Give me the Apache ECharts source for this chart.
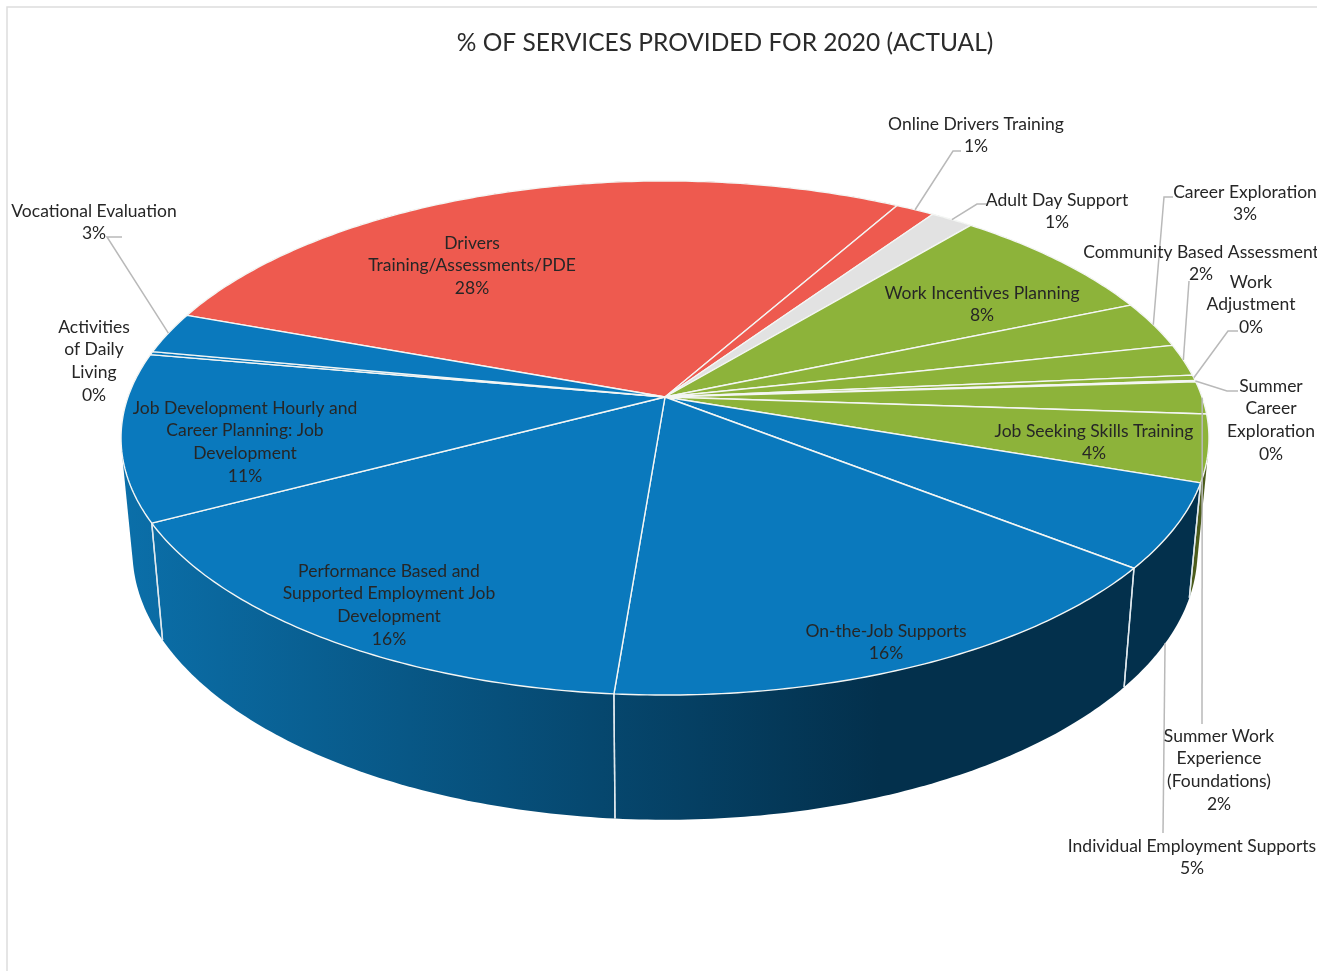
<!DOCTYPE html>
<html>
<head>
<meta charset="utf-8">
<style>
  html, body { margin: 0; padding: 0; background: #fff; overflow: hidden; }
  #chart { width: 1317px; height: 971px; }
</style>
<script src="https://cdn.jsdelivr.net/npm/echarts@6/dist/echarts.min.js"></script>
</head>
<body>
<div id="chart"></div>
<script>
// Service names, clockwise from the large red slice
const serviceNames = [
  'Drivers Training/Assessments/PDE', 'Online Drivers Training', 'Adult Day Support',
  'Work Incentives Planning', 'Career Exploration', 'Community Based Assessment',
  'Work Adjustment', 'Summer Career Exploration', 'Summer Work Experience (Foundations)',
  'Job Seeking Skills Training', 'Individual Employment Supports', 'On-the-Job Supports',
  'Performance Based and Supported Employment Job Development',
  'Job Development Hourly and Career Planning: Job Development',
  'Activities of Daily Living', 'Vocational Evaluation'
];
// Percent of services provided
const serviceShares = [27.6, 1.35, 1.49, 7.6, 2.95, 2.0, 0.35, 0.08, 2.05, 4.2, 5.3, 15.7, 16.0, 10.5, 0.2, 2.6];
// Wrapped label text for each service
const labelLines = [
  ['Drivers', 'Training/Assessments/PDE'], ['Online Drivers Training'], ['Adult Day Support'],
  ['Work Incentives Planning'], ['Career Exploration'], ['Community Based Assessment'],
  ['Work', 'Adjustment'], ['Summer', 'Career', 'Exploration'], ['Summer Work', 'Experience', '(Foundations)'],
  ['Job Seeking Skills Training'], ['Individual Employment Supports'], ['On-the-Job Supports'],
  ['Performance Based and', 'Supported Employment Job', 'Development'],
  ['Job Development Hourly and', 'Career Planning: Job', 'Development'],
  ['Activities', 'of Daily', 'Living'], ['Vocational Evaluation']
];
const chartTitle = '% OF SERVICES PROVIDED FOR 2020 (ACTUAL)';

// Colour family per service
const families = ['red', 'red', 'grey', 'green', 'green', 'green', 'green', 'green', 'green', 'green',
  'blue', 'blue', 'blue', 'blue', 'blue', 'blue'];
const topColors = { red: '#ee5a4f', grey: '#e2e2e2', green: '#8db33a', blue: '#0a79bd' };
const sideColors = {
  red: '#8a342e', grey: '#808080', green: '#4c5c1c',
  blue: { type: 'linear', global: true, x: 122, y: 0, x2: 880, y2: 0,
          colorStops: [{ offset: 0, color: '#0b6fa9' }, { offset: 1, color: '#03304c' }] }
};

// Perspective disc: plane centre, half axes, foreshortening and start bearing
const disc = { cx: 665, cy: 397, a: 537, b: 250.5, k: 0.1595, startDeg: 290.1 };
// The lower rim is the upper rim scaled and pushed down
const rim = { sx: 0.979, sy: 1.046, drop: 111 };

function project(deg) {
  const t = deg * Math.PI / 180, u = Math.sin(t), v = -Math.cos(t), w = 1 - disc.k * v;
  return [disc.cx + disc.a * u / w, disc.cy + disc.b * v / w];
}
function projectLow(deg) {
  const p = project(deg);
  return [disc.cx + rim.sx * (p[0] - disc.cx), disc.cy + rim.drop + rim.sy * (p[1] - disc.cy)];
}
function arc(fn, from, to) {
  const pts = [], n = Math.max(2, Math.ceil((to - from) / 0.75));
  for (let i = 0; i <= n; i++) pts.push(fn(from + (to - from) * i / n));
  return pts;
}
// Monotone-chain hull; the upper face paints over whatever the hull adds inside the disc
function convexHull(points) {
  const pts = points.slice().sort((p, q) => p[0] - q[0] || p[1] - q[1]);
  const cross = (o, p, q) => (p[0] - o[0]) * (q[1] - o[1]) - (p[1] - o[1]) * (q[0] - o[0]);
  const chain = (list) => {
    const out = [];
    list.forEach((p) => {
      while (out.length > 1 && cross(out[out.length - 2], out[out.length - 1], p) <= 0) out.pop();
      out.push(p);
    });
    out.pop();
    return out;
  };
  return chain(pts).concat(chain(pts.slice().reverse()));
}

const total = serviceShares.reduce((s, v) => s + v, 0);
const bearings = [];
serviceShares.reduce((acc, v) => {
  const sweep = v / total * 360;
  bearings.push([acc, acc + sweep]);
  return acc + sweep;
}, disc.startDeg);

// Label placement: centre x, first-line centre y, leader knee points and rim end
const labelPlaces = [
  { x: 472, y: 243 },
  { x: 976, y: 124, knee: [[961, 151], [953, 151]] },
  { x: 1057, y: 200, knee: [[987, 204], [977, 204]] },
  { x: 982, y: 293 },
  { x: 1245, y: 192, knee: [[1173, 197], [1164, 197]] },
  { x: 1201, y: 252, knee: [[1189, 281]] },
  { x: 1251, y: 282, knee: [[1238, 331], [1228, 331]] },
  { x: 1271, y: 386, knee: [[1238, 391], [1227, 391]] },
  { x: 1219, y: 736, knee: [[1202, 724]] },
  { x: 1094, y: 431 },
  { x: 1192, y: 846, knee: [[1163, 833]], lowRim: true },
  { x: 886, y: 631 },
  { x: 389, y: 571 },
  { x: 245, y: 408 },
  { x: 94, y: 327 },
  { x: 94, y: 211, knee: [[122, 237], [107, 237]] }
];
const labelFont = 'Lato, "Open Sans", sans-serif';
const lineGap = 22.7;

const sliceData = serviceNames.map((name, i) => ({ name, value: serviceShares[i] }));

// The wall of a slice, with light edges only where the wall faces the viewer
function renderSide(params) {
  const i = params.dataIndex, [from, to] = bearings[i];
  const up = arc(project, from, to), low = arc(projectLow, from, to);
  const children = [{
    type: 'polygon',
    shape: { points: convexHull(up.concat(low)) },
    style: { fill: sideColors[families[i]] }
  }];
  [from, to].forEach((deg) => {
    if (-Math.cos(deg * Math.PI / 180) < 0.2) return;
    const a = project(deg), b = projectLow(deg);
    children.push({
      type: 'line', z2: 2,
      shape: { x1: a[0], y1: a[1], x2: b[0], y2: b[1] },
      style: { stroke: '#dfe8ee', lineWidth: 1.4 }
    });
  });
  return { type: 'group', children };
}
function renderTop(params) {
  const i = params.dataIndex, [from, to] = bearings[i];
  const pts = [[disc.cx, disc.cy]].concat(arc(project, from, to));
  return {
    type: 'polygon',
    shape: { points: pts },
    style: { fill: topColors[families[i]], stroke: '#f4f6f4', lineWidth: 1.4, lineJoin: 'round' }
  };
}
function renderLabel(params, api) {
  const i = params.dataIndex, place = labelPlaces[i], [from, to] = bearings[i];
  const pct = Math.round(api.value(0) / total * 100) + '%';
  const children = [{
    type: 'text', z2: 10,
    style: {
      text: labelLines[i].concat(pct).join('\n'),
      x: place.x, y: place.y - lineGap / 2,
      align: 'center', verticalAlign: 'top', lineHeight: lineGap,
      fontFamily: labelFont, fontSize: 17.5, fill: '#262626'
    }
  }];
  if (place.knee) {
    const mid = (from + to) / 2;
    const anchor = (place.lowRim ? projectLow : project)(mid);
    children.push({
      type: 'polyline', z2: 5,
      shape: { points: [anchor].concat(place.knee.slice().reverse()) },
      style: { fill: null, stroke: '#b9b9b9', lineWidth: 1.5 }
    });
  }
  return { type: 'group', children };
}

const chart = echarts.init(document.getElementById('chart'), null, { renderer: 'canvas' });
chart.setOption({
  animation: false,
  backgroundColor: '#fff',
  title: {
    text: chartTitle, left: 720, top: 26, textAlign: 'center',
    textStyle: { fontFamily: labelFont, fontSize: 24.5, fontWeight: 'normal', color: '#2b2b2b' }
  },
  graphic: [{
    type: 'polyline', z: -1, silent: true,
    shape: { points: [[7, 975], [7, 7], [1320, 7]] },
    style: { fill: null, stroke: '#dddddd', lineWidth: 1.5 }
  }],
  series: [
    { type: 'custom', name: 'sides', coordinateSystem: 'none', z: 2, clip: false, silent: true,
      renderItem: renderSide, data: sliceData },
    { type: 'custom', name: 'tops', coordinateSystem: 'none', z: 3, clip: false, silent: true,
      renderItem: renderTop, data: sliceData },
    { type: 'custom', name: 'labels', coordinateSystem: 'none', z: 4, clip: false, silent: true,
      renderItem: renderLabel, data: sliceData }
  ]
});
</script>
</body>
</html>
